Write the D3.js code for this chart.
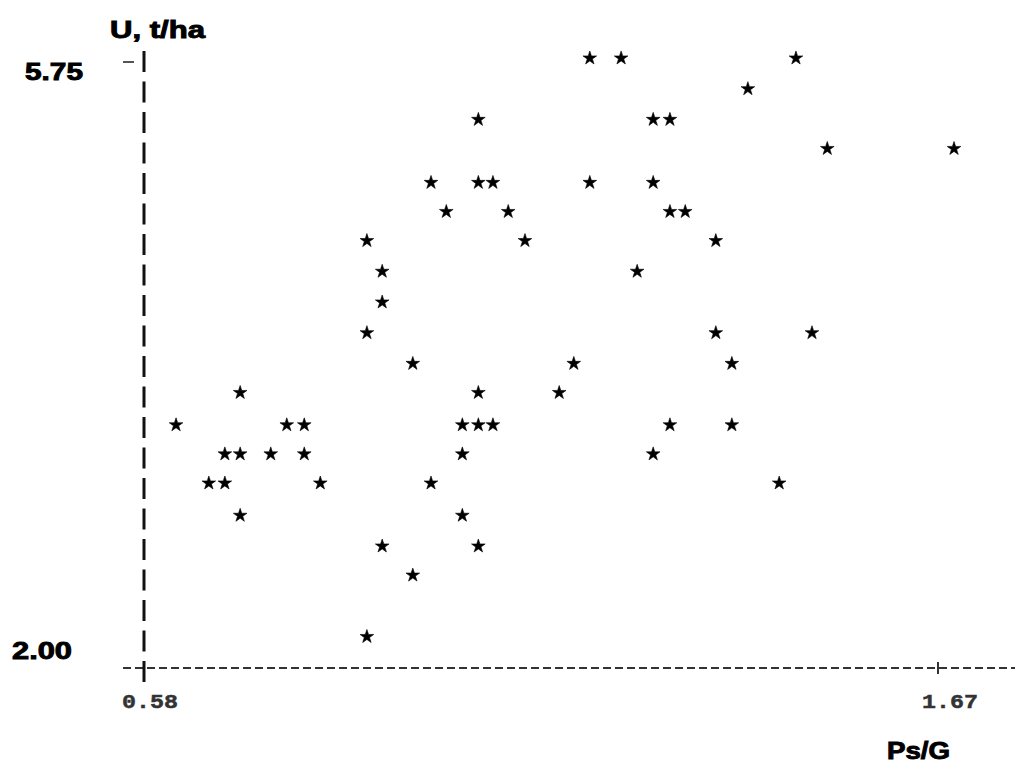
<!DOCTYPE html>
<html>
<head>
<meta charset="utf-8">
<script src="https://cdn.jsdelivr.net/npm/d3@7"></script>
<style>
  html, body { margin: 0; padding: 0; background: #fff; }
  svg { display: block; }
</style>
</head>
<body>
<script>
// Ps/G (x) and yield U, t/ha (y) for each observation
const psG = [
  1.192, 1.235, 1.475,
  1.409,
  1.039, 1.279, 1.302,
  1.518, 1.692,
  0.974, 1.039, 1.059, 1.192, 1.279,
  0.995, 1.080, 1.302, 1.323,
  0.886, 1.103, 1.365,
  0.907, 1.257,
  0.907,
  0.886, 1.365, 1.497,
  0.949, 1.170, 1.387,
  0.712, 1.039, 1.150,
  0.624, 0.776, 0.800, 1.017, 1.039, 1.059, 1.302, 1.387,
  0.691, 0.712, 0.754, 0.800, 1.017, 1.279,
  0.669, 0.691, 0.822, 0.974, 1.452,
  0.712, 1.017,
  0.907, 1.039,
  0.949,
  0.886
];
const yieldU = [
  5.78, 5.78, 5.78,
  5.59,
  5.40, 5.40, 5.40,
  5.22, 5.22,
  5.01, 5.01, 5.01, 5.01, 5.01,
  4.83, 4.83, 4.83, 4.83,
  4.65, 4.65, 4.65,
  4.46, 4.46,
  4.27,
  4.08, 4.08, 4.08,
  3.89, 3.89, 3.89,
  3.71, 3.71, 3.71,
  3.51, 3.51, 3.51, 3.51, 3.51, 3.51, 3.51, 3.51,
  3.33, 3.33, 3.33, 3.33, 3.33, 3.33,
  3.15, 3.15, 3.15, 3.15, 3.15,
  2.95, 2.95,
  2.76, 2.76,
  2.58,
  2.20
];
const xTicks = [0.58, 1.67];
const yTicks = [2.00, 5.75];
const xTitle = "Ps/G";
const yTitle = "U, t/ha";

const W = 1015, H = 765;
const svg = d3.select("body").append("svg").attr("width", W).attr("height", H);

const x = d3.scaleLinear().domain([0.58, 1.67]).range([144, 938]);
const y = d3.scaleLinear().domain([2.00, 5.75]).range([668, 62]);

// x axis: dashed line
svg.append("line")
  .attr("x1", 123).attr("x2", W)
  .attr("y1", y(2.00)).attr("y2", y(2.00))
  .attr("stroke", "#333").attr("stroke-width", 2)
  .attr("stroke-dasharray", "8,4");

// y axis: dashed vertical
svg.append("line")
  .attr("x1", x(0.58)).attr("x2", x(0.58))
  .attr("y1", 51).attr("y2", 682)
  .attr("stroke", "#111").attr("stroke-width", 3)
  .attr("stroke-dasharray", "21,9.5");

// y tick at 5.75
svg.append("line")
  .attr("x1", 123).attr("x2", 134)
  .attr("y1", y(5.75)).attr("y2", y(5.75))
  .attr("stroke", "#555").attr("stroke-width", 2);

// x tick "+" at 1.67
svg.append("line")
  .attr("x1", x(1.67)).attr("x2", x(1.67))
  .attr("y1", y(2.00) - 6).attr("y2", y(2.00) + 6)
  .attr("stroke", "#333").attr("stroke-width", 2);

const boldText = sel => sel
  .style("font-family", "'Liberation Sans', Arial, sans-serif")
  .style("font-weight", "bold").style("font-size", "23px")
  .attr("fill", "#000").attr("stroke", "#000").attr("stroke-width", 0.9)
  .attr("lengthAdjust", "spacingAndGlyphs");

// y tick labels
svg.selectAll("text.ylab").data(yTicks).enter().append("text")
  .attr("class", "ylab")
  .attr("x", d => d === 5.75 ? 25 : 12)
  .attr("y", d => y(d) + (d === 5.75 ? 18 : -9))
  .attr("textLength", d => d === 5.75 ? 58 : 60)
  .call(boldText)
  .text(d => d.toFixed(2));

// x tick labels
svg.selectAll("text.xlab").data(xTicks).enter().append("text")
  .attr("class", "xlab")
  .attr("x", d => x(d) - 22 + (d === 1.67 ? 6 : 0))
  .attr("y", 708)
  .attr("textLength", 56).attr("lengthAdjust", "spacingAndGlyphs")
  .style("font-family", "'Liberation Mono', 'Courier New', monospace")
  .style("font-weight", "bold").style("font-size", "21px")
  .attr("fill", "#333").attr("stroke", "#333").attr("stroke-width", 0.5)
  .text(d => d.toFixed(2));

// axis titles
svg.append("text")
  .attr("x", 110).attr("y", 38)
  .attr("textLength", 95)
  .call(boldText)
  .text(yTitle);
svg.append("text")
  .attr("x", 887).attr("y", 759)
  .attr("textLength", 63)
  .call(boldText)
  .text(xTitle);

// points: stars
const star = d3.symbol().type(d3.symbolStar).size(58);
const pts = psG.map((v, i) => ({ x: v, y: yieldU[i] }));
svg.append("g").selectAll("path").data(pts).enter().append("path")
  .attr("d", star)
  .attr("transform", d => `translate(${x(d.x)},${y(d.y) + 1})`)
  .attr("fill", "#000").attr("stroke", "#000").attr("stroke-width", 0.6)
  .attr("stroke-linejoin", "round");
</script>
</body>
</html>
